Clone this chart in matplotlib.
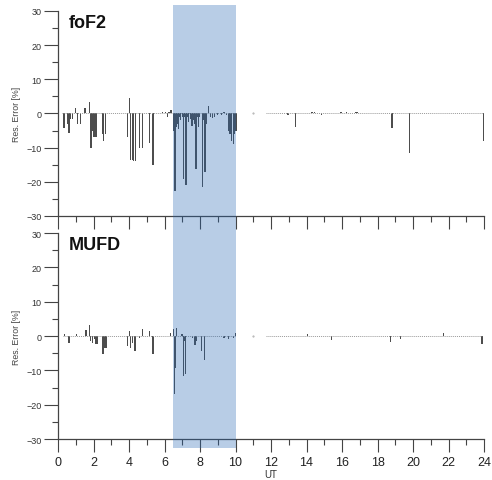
import matplotlib.pyplot as plt
import matplotlib.transforms as mtransforms
from matplotlib.patches import Rectangle
from matplotlib.ticker import MultipleLocator

plt.rcParams['font.family'] = ['Liberation Sans', 'DejaVu Sans']

# foF2 residual errors (UT hour, %)
fof2_ut = [0.34, 0.55, 0.62, 0.70, 0.83, 1.00, 1.10, 1.28, 1.52, 1.76, 1.86, 1.93,
           2.00, 2.08, 2.17, 2.50, 2.58, 2.67, 3.93, 4.02, 4.10, 4.18, 4.27, 4.35,
           4.58, 4.75, 5.16, 5.35, 5.90, 6.05, 6.18, 6.25, 6.37,
           6.50, 6.55, 6.59, 6.63, 6.68, 6.72, 6.78, 6.85, 6.91, 7.00, 7.06, 7.13,
           7.21, 7.28, 7.34, 7.45, 7.55, 7.62, 7.70, 7.77, 7.85, 7.90, 7.98, 8.13,
           8.20, 8.28, 8.35, 8.47, 8.60, 8.72, 8.80, 9.00, 9.20, 9.35, 9.50, 9.60,
           9.68, 9.78, 9.88, 9.95, 10.03,
           12.95, 13.37, 14.30, 14.45, 14.85, 15.95, 16.25, 16.75, 16.85, 18.82,
           19.81, 24.00]
fof2_err = [-4.2, -3.0, -5.8, -1.5, -1.5, 1.5, -3.0, -3.0, 1.5, 3.5, -10.0, -5.0,
            -7.0, -7.0, -7.0, -6.0, -8.0, -6.0, -7.0, 4.5, -13.5, -13.5, -14.0, -14.0,
            -10.0, -10.0, -8.5, -15.0, 0.3, 0.5, -1.0, 0.5, 1.0,
            -5.0, -11.0, -22.6, -11.0, -4.0, -3.0, -4.5, -1.0, -2.0, -1.0, -19.2, -1.0,
            -20.9, -1.0, -2.5, -1.5, -3.6, -2.0, -3.0, -16.2, -1.0, -4.0, -1.0, -21.6,
            -2.0, -17.0, -3.0, 2.1, -1.0, -1.3, -1.0, -0.5, -0.5, 0.5, -0.5, -5.0,
            -6.0, -8.0, -8.9, -6.0, -5.0,
            -0.5, -3.9, 0.5, 0.5, -0.4, 0.4, 0.3, 0.5, 0.5, -4.2,
            -11.5, -8.1]
fof2_cover = [(0.2, 10.05), (11.7, 24.0)]

# MUFD residual errors (UT hour, %)
mufd_ut = [0.36, 0.62, 1.05, 1.58, 1.76, 1.83, 1.93, 2.05, 2.12, 2.20, 2.54, 2.62,
           2.70, 3.93, 4.02, 4.10, 4.20, 4.34, 4.58, 4.77, 5.16, 5.35, 6.33,
           6.50, 6.57, 6.62, 6.68, 6.99, 7.06, 7.12, 7.19, 7.59, 7.72, 7.81, 8.10,
           8.26, 9.35, 9.60, 9.90, 10.00,
           14.07, 15.42, 18.74, 19.30, 21.71, 23.89]
mufd_err = [0.5, -2.0, 0.5, 1.7, 3.2, -1.5, -2.0, -1.0, -2.3, -2.3, -5.2, -3.5,
            -3.5, -3.0, 1.5, -3.5, -2.0, -4.3, -0.5, 2.0, 1.5, -5.3, 1.0,
            2.1, -17.0, -9.2, 2.3, 0.5, -11.7, -1.5, -11.2, -0.5, -2.5, -1.5, -4.3,
            -7.1, -0.5, -0.8, -0.6, 0.8,
            0.6, -1.3, -1.8, -0.8, 0.8, -2.3]
mufd_cover = [(0.3, 10.05), (11.7, 23.9)]

lone_point = 11.0
span_start, span_end = 6.45, 10.05

panels = [('foF2', fof2_ut, fof2_err, fof2_cover),
          ('MUFD', mufd_ut, mufd_err, mufd_cover)]

fig = plt.figure(figsize=(4.92, 4.81), dpi=100)
ax_top = fig.add_axes([0.1179, 0.5489, 0.8659, 0.4262])
ax_bot = fig.add_axes([0.1179, 0.0852, 0.8659, 0.4283])
axes = [ax_top, ax_bot]

for ax, (name, ut, err, cover) in zip(axes, panels):
    for x0, x1 in cover:
        ax.hlines(0, x0, x1, color='#9a9a9a', lw=0.7, linestyles=(0, (1, 1)))
    ax.plot([lone_point], [0], marker='.', ms=1, color='#aaaaaa')
    ax.bar(ut, err, width=0.075, color='#4d4d4d', edgecolor='none')

    ax.set_xlim(0, 24)
    ax.set_ylim(-30, 30)
    ax.spines['top'].set_visible(False)
    ax.spines['right'].set_visible(False)
    for s in ['left', 'bottom']:
        ax.spines[s].set_color('#444444')
        ax.spines[s].set_linewidth(0.9)
    ax.xaxis.set_major_locator(MultipleLocator(2))
    ax.xaxis.set_minor_locator(MultipleLocator(1))
    ax.yaxis.set_major_locator(MultipleLocator(10))
    ax.yaxis.set_minor_locator(MultipleLocator(5))
    ax.tick_params(axis='y', which='major', length=10, width=0.8, color='#444444',
                   labelsize=6.5, labelcolor='#333333', pad=2)
    ax.tick_params(axis='y', which='minor', length=4, width=0.8, color='#444444')
    ax.tick_params(axis='x', which='major', length=9, width=0.8, color='#444444',
                   labelsize=9, labelcolor='#222222', pad=3)
    ax.tick_params(axis='x', which='minor', length=4.5, width=0.8, color='#444444')
    ax.set_ylabel('Res. Error [%]', fontsize=6.3, color='#444444', labelpad=4)
    ax.text(0.025, 0.985, name, transform=ax.transAxes, fontsize=13,
            fontweight='bold', va='top', ha='left', color='#111111')

ax_top.tick_params(axis='x', labelbottom=False)
fig.text(271 / 492, 0.002, 'UT', fontsize=7, color='#333333', ha='center', va='bottom')

# shaded interval spanning both panels
trans = mtransforms.blended_transform_factory(ax_bot.transData, fig.transFigure)
rect = Rectangle((span_start, 0.0665), span_end - span_start, 0.9875 - 0.0665,
                 transform=trans, facecolor='#2264b2', alpha=0.32,
                 edgecolor='none', zorder=5)
fig.add_artist(rect)

fig.savefig('out.png', dpi=100)
